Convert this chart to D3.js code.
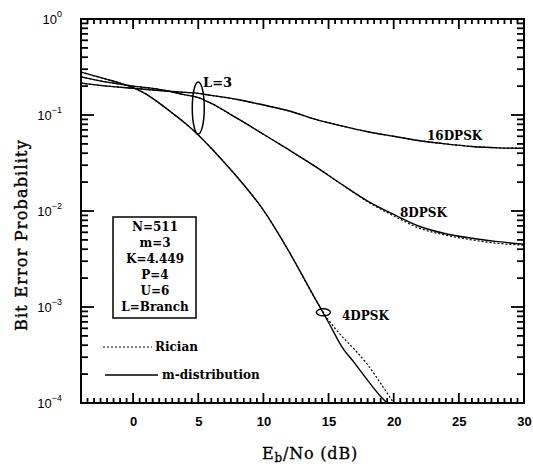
<!DOCTYPE html>
<html>
<head>
<meta charset="utf-8">
<script src="https://cdn.jsdelivr.net/npm/d3@7"></script>
<style>
  body { margin: 0; background: #fff; }
  svg { display: block; }
</style>
</head>
<body>
<div id="chart"></div>
<script>
// data (Eb/No in dB, bit error probability)
const snr = [-4, -2, 0, 2, 4, 5, 6, 8, 10, 12, 14, 16, 18, 20, 22, 24, 26, 28, 30];
const ber16 = [0.215, 0.2, 0.19, 0.18, 0.172, 0.168, 0.16, 0.145, 0.127, 0.11, 0.09, 0.077, 0.067, 0.06, 0.054, 0.05, 0.047, 0.0455, 0.045];
const ber8 = [0.25, 0.22, 0.2, 0.185, 0.162, 0.152, 0.132, 0.092, 0.063, 0.043, 0.029, 0.019, 0.0127, 0.0092, 0.0069, 0.0058, 0.0052, 0.0048, 0.0045];
const ber8r = [0.25, 0.22, 0.2, 0.185, 0.162, 0.152, 0.132, 0.092, 0.063, 0.043, 0.029, 0.019, 0.0125, 0.0089, 0.0066, 0.0056, 0.005, 0.0046, 0.0044];

const snr4 = [-4, -2, -1, 0, 1, 2, 3, 4, 5, 6, 7, 8, 10, 12, 14, 15, 16, 17, 18, 19, 19.5];
const ber4m = [0.28, 0.235, 0.215, 0.193, 0.165, 0.133, 0.105, 0.082, 0.062, 0.045, 0.032, 0.0225, 0.0102, 0.0037, 0.0012, 0.00069, 0.00039, 0.00026, 0.000172, 0.000117, 0.0001];
const snr4r = [-4, -2, -1, 0, 1, 2, 3, 4, 5, 6, 7, 8, 10, 12, 14, 15, 16, 17, 18, 19, 20];
const ber4r = [0.28, 0.235, 0.215, 0.193, 0.165, 0.133, 0.105, 0.082, 0.062, 0.045, 0.032, 0.0225, 0.0102, 0.0037, 0.0012, 0.00073, 0.0005, 0.00036, 0.00025, 0.00016, 0.0001];

const xTicks = [0, 5, 10, 15, 20, 25, 30];
const yTicks = [1e-4, 1e-3, 1e-2, 1e-1, 1];
const yExp = ["\u22124", "\u22123", "\u22122", "\u22121", "0"];
const params = ["N=511", "m=3", "K=4.449", "P=4", "U=6", "L=Branch"];

const W = 533, H = 468;
const pLeft = 81, pRight = 524, pTop = 19, pBottom = 403;
const serif = '"DejaVu Serif", serif';
const sans = '"Liberation Sans", Arial, sans-serif';

const svg = d3.select('#chart')
  .append('svg')
  .attr('width', W)
  .attr('height', H)

const x = d3.scaleLinear().domain([-4, 30]).range([pLeft, pRight]);
const y = d3.scaleLog().domain([1e-4, 1]).range([pBottom, pTop]);

// tick positions
const xMinor = d3.range(-3.5, 30, 0.5).filter(v => v % 5 !== 0);
const yMinor = [];
for (let e = -4; e < 0; e++) for (let k = 2; k <= 9; k++) yMinor.push(k * Math.pow(10, e));

// plot frame
svg.append('rect')
  .attr('x', pLeft).attr('y', pTop)
  .attr('width', pRight - pLeft).attr('height', pBottom - pTop)
  .attr('fill', 'none').attr('stroke', '#000').attr('stroke-width', 2);

// tick marks (inward, on all four sides)
const tk = svg.append('g');
const xt = xMinor.map(v => ({ v, len: 5 })).concat(xTicks.map(v => ({ v, len: 10 })));
const yt = yMinor.map(v => ({ v, len: 7 })).concat(yTicks.map(v => ({ v, len: 13 })));
const tickSegs = [];
xt.forEach(d => {
  tickSegs.push({ x1: x(d.v), x2: x(d.v), y1: pBottom, y2: pBottom - d.len });
  tickSegs.push({ x1: x(d.v), x2: x(d.v), y1: pTop, y2: pTop + d.len });
});
yt.forEach(d => {
  tickSegs.push({ x1: pLeft, x2: pLeft + d.len, y1: y(d.v), y2: y(d.v) });
  tickSegs.push({ x1: pRight, x2: pRight - d.len, y1: y(d.v), y2: y(d.v) });
});
tk.selectAll('line')
  .data(tickSegs)
  .enter()
  .append('line')
  .attr('x1', d => d.x1).attr('x2', d => d.x2)
  .attr('y1', d => d.y1).attr('y2', d => d.y2)
  .attr('stroke', '#000')
  .attr('stroke-width', 1.8);

// tick labels through d3 axes
const xa = svg.append('g').attr('transform', `translate(0,${pBottom})`)
  .call(d3.axisBottom(x).tickValues(xTicks).tickSize(0).tickPadding(14));
xa.selectAll('text')
  .attr('font-family', sans).attr('font-size', 13).attr('font-weight', 'bold').attr('fill', '#000');

const ya = svg.append('g').attr('transform', `translate(${pLeft},0)`)
  .call(d3.axisLeft(y).tickValues(yTicks).tickSize(0).tickPadding(19).tickFormat(() => ''));
ya.selectAll('.tick text').each(function(d, i) {
  const t = d3.select(this)
    .attr('font-family', sans).attr('font-size', 13).attr('fill', '#000')
    .attr('text-anchor', 'end');
  t.append('tspan').text('10');
  t.append('tspan').attr('font-size', 9).attr('dy', -7).text(yExp[i]);
});
svg.selectAll('.domain').remove();

// curves
svg.append('clipPath').attr('id', 'clip')
  .append('rect').attr('x', pLeft).attr('y', pTop).attr('width', pRight - pLeft).attr('height', pBottom - pTop);

const line = d3.line().curve(d3.curveMonotoneX).x(d => x(d[0])).y(d => y(d[1]));
const curves = [
  { xs: snr, ys: ber16, dash: '2,2' },
  { xs: snr, ys: ber8r, dash: '2,2' },
  { xs: snr4r, ys: ber4r, dash: '2,2' },
  { xs: snr, ys: ber16, dash: null },
  { xs: snr, ys: ber8, dash: null },
  { xs: snr4, ys: ber4m, dash: null }
];
svg.append('g').attr('clip-path', 'url(#clip)')
  .selectAll('path')
  .data(curves)
  .enter()
  .append('path')
  .attr('d', d => line(d.xs.map((v, i) => [v, d.ys[i]])))
  .attr('fill', 'none')
  .attr('stroke', '#000')
  .attr('stroke-width', d => d.dash ? 1.2 : 1.4)
  .attr('stroke-dasharray', d => d.dash);

// ellipses
svg.append('ellipse').attr('cx', x(5)).attr('cy', 108).attr('rx', 6).attr('ry', 26)
  .attr('fill', 'none').attr('stroke', '#000').attr('stroke-width', 1.5);
svg.append('ellipse').attr('cx', x(14.6)).attr('cy', y(0.00088)).attr('rx', 7).attr('ry', 3.5)
  .attr('fill', 'none').attr('stroke', '#000').attr('stroke-width', 1.5);

// annotations
function ann(txt, px, py, size) {
  return svg.append('text').attr('x', px).attr('y', py)
    .attr('font-family', serif).attr('font-weight', 'bold').attr('font-size', size || 12)
    .attr('fill', '#000').text(txt);
}
ann('L=3', 203, 87, 13);
ann('16DPSK', 427, 140);
ann('8DPSK', 400, 217);
ann('4DPSK', 342, 320);

// parameter box
svg.append('rect').attr('x', 113).attr('y', 217).attr('width', 83).attr('height', 101)
  .attr('fill', '#fff').attr('stroke', '#000').attr('stroke-width', 1.5);
svg.selectAll('.par')
  .data(params)
  .enter()
  .append('text')
  .attr('class', 'par')
  .attr('x', 155)
  .attr('y', (d, i) => 231 + i * 16)
  .attr('text-anchor', 'middle')
  .attr('font-family', serif).attr('font-weight', 'bold').attr('font-size', 12)
  .text(d => d);

// legend
svg.append('line').attr('x1', 103).attr('x2', 152).attr('y1', 347).attr('y2', 347)
  .attr('stroke', '#000').attr('stroke-width', 1.2).attr('stroke-dasharray', '2,2');
ann('Rician', 155, 351);
svg.append('line').attr('x1', 105).attr('x2', 158).attr('y1', 375).attr('y2', 375)
  .attr('stroke', '#000').attr('stroke-width', 1.3);
ann('m-distribution', 162, 379);

// axis titles
const xTitle = svg.append('text').attr('x', 310).attr('y', 459)
  .attr('text-anchor', 'middle').attr('font-family', serif).attr('font-size', 16)
  .attr('letter-spacing', 0.8).attr('fill', '#000')
  .attr('stroke', '#000').attr('stroke-width', 0.3);
xTitle.append('tspan').text('E');
xTitle.append('tspan').attr('font-size', 12).attr('dy', 3).text('b');
xTitle.append('tspan').attr('dy', -3).text('/No (dB)');

svg.append('text')
  .attr('transform', 'translate(27,235) rotate(-90)')
  .attr('text-anchor', 'middle').attr('font-family', serif).attr('font-size', 16)
  .attr('letter-spacing', 1.2).attr('fill', '#000')
  .attr('stroke', '#000').attr('stroke-width', 0.4)
  .text('Bit Error Probability');
</script>
</body>
</html>
